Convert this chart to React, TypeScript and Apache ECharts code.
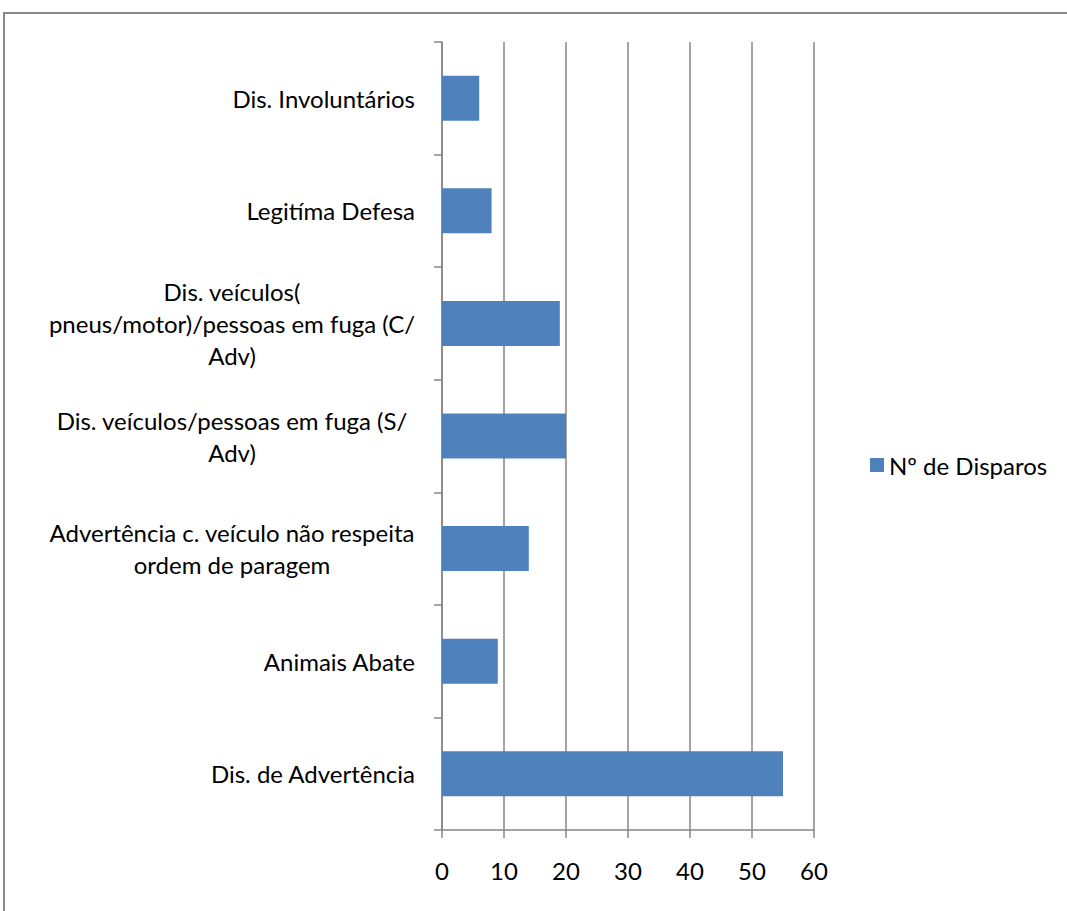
import React, { useEffect, useRef } from "react";
import * as echarts from "echarts";

const categories: string[] = [
  "Dis. de Advertência",
  "Animais Abate",
  "Advertência c. veículo não respeita\nordem de paragem",
  "Dis. veículos/pessoas em fuga (S/\nAdv)",
  "Dis. veículos(\npneus/motor)/pessoas em fuga (C/\nAdv)",
  "Legitíma Defesa",
  "Dis. Involuntários",
];
const values: number[] = [55, 9, 14, 20, 19, 8, 6];
const seriesName = "Nº de Disparos";
const valueTicks = { min: 0, max: 60, interval: 10 };

const FONT = "Lato, 'Open Sans', sans-serif";
const GRAY = "#868686";

export default function App() {
  const ref = useRef<HTMLDivElement>(null);
  useEffect(() => {
    if (!ref.current) return;
    const chart = echarts.init(ref.current, null, { renderer: "svg" });
    const catData = categories.map((c) => {
      const multi = c.includes("\n");
      return multi
        ? { value: c, textStyle: { align: "center", padding: [0, 366, 0, 0] } }
        : { value: c };
    });
    chart.setOption({
      animation: false,
      backgroundColor: "#fff",
      textStyle: { fontFamily: FONT },
      graphic: [
        {
          type: "rect",
          shape: { x: 4, y: 13, width: 1200, height: 1000 },
          style: { fill: "none", stroke: "#8a8a8a", lineWidth: 2 },
          silent: true,
        },
      ],
      legend: {
        show: true,
        orient: "vertical",
        left: 865,
        top: 448,
        icon: "rect",
        itemWidth: 14,
        itemHeight: 14,
        itemGap: 10,
        textStyle: { fontFamily: FONT, fontSize: 24, color: "#000" },
        data: [seriesName],
      },
      grid: { left: 442, right: 253, top: 42, bottom: 81, containLabel: false },
      xAxis: {
        type: "value",
        min: valueTicks.min,
        max: valueTicks.max,
        interval: valueTicks.interval,
        axisLine: { show: true, lineStyle: { color: GRAY, width: 1.5 } },
        axisTick: { show: true, length: 8, lineStyle: { color: GRAY, width: 1.5 } },
        splitLine: { show: true, lineStyle: { color: GRAY, width: 1.5 } },
        axisLabel: { fontFamily: FONT, fontSize: 24, color: "#000", margin: 28 },
      },
      yAxis: {
        type: "category",
        data: catData,
        axisLine: { show: true, lineStyle: { color: GRAY, width: 1.5 } },
        axisTick: { show: true, length: 8, lineStyle: { color: GRAY, width: 1.5 } },
        splitLine: { show: false },
        axisLabel: {
          fontFamily: FONT,
          fontSize: 24,
          color: "#000",
          margin: 27,
          lineHeight: 32,
          interval: 0,
        },
      },
      series: [
        {
          name: seriesName,
          type: "bar",
          data: values,
          barWidth: "40%",
          itemStyle: { color: "#4F81BD" },
        },
      ],
    });
    return () => chart.dispose();
  }, []);
  return (
    <div
      ref={ref}
      style={{ position: "fixed", left: 0, top: 0, width: 1067, height: 911 }}
    />
  );
}
